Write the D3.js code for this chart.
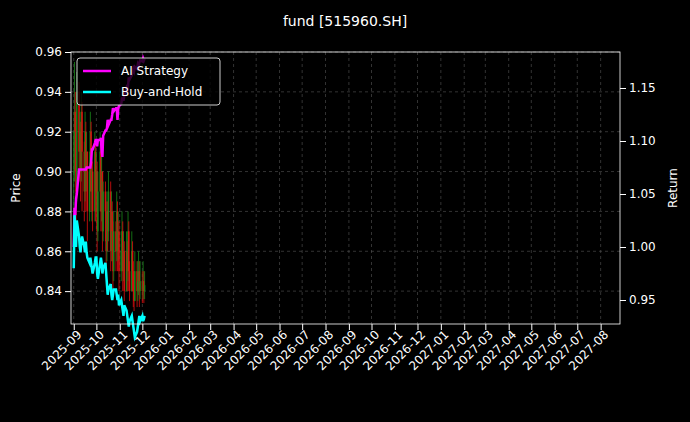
<!DOCTYPE html><html><head><meta charset="utf-8"><script src="https://cdn.jsdelivr.net/npm/d3@7"></script>
<style>body{margin:0;background:#000}text{font-family:"DejaVu Sans",sans-serif}</style></head><body><svg id="c" width="690" height="422"></svg>
<script>
const title="fund [515960.SH]";
const closes=[0.90,0.93,0.92,0.89,0.94,0.91,0.92,0.90,0.93,0.91,0.89,0.92,0.90,0.91,0.88,0.90,0.92,0.89,0.90,0.88,0.91,0.89,0.90,0.87,0.89,0.91,0.88,0.90,0.87,0.89,0.88,0.86,0.88,0.87,0.89,0.86,0.88,0.87,0.85,0.87,0.86,0.88,0.86,0.87,0.85,0.86,0.87,0.85,0.86,0.84,0.86,0.85,0.87,0.85,0.84,0.86,0.85,0.84,0.835,0.85,0.84,0.845,0.85,0.84,0.845,0.84,0.845,0.84,0.843];
const highs=[0.92,0.955,0.94,0.93,0.95,0.945,0.93,0.925,0.94,0.935,0.915,0.93,0.925,0.92,0.91,0.91,0.93,0.925,0.91,0.905,0.92,0.915,0.91,0.905,0.90,0.92,0.915,0.91,0.90,0.895,0.895,0.885,0.89,0.885,0.90,0.895,0.89,0.885,0.875,0.88,0.875,0.89,0.885,0.88,0.875,0.87,0.88,0.875,0.87,0.865,0.87,0.865,0.88,0.875,0.855,0.87,0.865,0.855,0.85,0.86,0.855,0.855,0.86,0.855,0.855,0.85,0.855,0.85,0.85];
const lows=[0.88,0.895,0.90,0.875,0.885,0.895,0.90,0.885,0.895,0.88,0.875,0.885,0.88,0.89,0.865,0.875,0.89,0.88,0.875,0.87,0.875,0.875,0.88,0.86,0.865,0.88,0.87,0.875,0.86,0.865,0.865,0.85,0.855,0.86,0.865,0.85,0.855,0.855,0.84,0.845,0.85,0.855,0.85,0.855,0.84,0.845,0.85,0.84,0.845,0.835,0.84,0.84,0.845,0.84,0.835,0.84,0.84,0.832,0.83,0.835,0.832,0.835,0.838,0.832,0.836,0.834,0.836,0.834,0.836];
const strategy=[1.00,1.037,1.03,1.045,1.05,1.073,1.073,1.073,1.073,1.073,1.073,1.073,1.073,1.075,1.075,1.075,1.075,1.08,1.092,1.092,1.098,1.101,1.101,1.095,1.101,1.101,1.103,1.09,1.085,1.105,1.11,1.11,1.112,1.12,1.115,1.12,1.12,1.125,1.131,1.128,1.131,1.131,1.12,1.131,1.133,1.135,1.14,1.14,1.138,1.143,1.15,1.148,1.152,1.16,1.158,1.162,1.165,1.168,1.166,1.17,1.168,1.172,1.17,1.174,1.176,1.175,1.178,1.176,1.178];
const buyHold=[0.98,1.03,1.02,1.00,1.025,1.01,1.00,0.995,1.005,1.01,1.00,0.995,1.005,0.995,0.99,0.985,0.99,0.985,0.98,0.975,0.985,0.99,0.99,0.975,0.97,0.985,0.99,0.985,0.975,0.98,0.985,0.975,0.965,0.955,0.96,0.965,0.955,0.95,0.955,0.96,0.96,0.955,0.95,0.955,0.945,0.95,0.945,0.94,0.935,0.945,0.94,0.935,0.93,0.925,0.93,0.935,0.93,0.925,0.92,0.915,0.92,0.925,0.93,0.935,0.93,0.935,0.93,0.932,0.935];
const priceTicks=[0.84,0.86,0.88,0.90,0.92,0.94,0.96];
const retTicks=[0.95,1.00,1.05,1.10,1.15];
const dates=[];{let d=new Date(2025,8,1);while(dates.length<closes.length){if(d.getDay()%6!==0)dates.push(new Date(d));d=new Date(d.getFullYear(),d.getMonth(),d.getDate()+1);}}
const opens=closes.map((c,i)=>i?closes[i-1]:c);
const svg=d3.select("#c");
const L=71,R=620,T=52,B=324;
const x=d3.scaleTime().domain([new Date(2025,7,28,8),new Date(2027,7,26,16)]).range([L,R]);
const yP=d3.scaleLinear().domain([0.8235,0.96]).range([B,T]);
const yR=d3.scaleLinear().domain([1,1.15]).range([247,88]);
const months=d3.timeMonth.range(new Date(2025,8,1),new Date(2027,7,2));
const g=svg.append("g");
g.selectAll(".vg").data(months).join("line").attr("x1",d=>x(d)).attr("x2",d=>x(d)).attr("y1",T).attr("y2",B).attr("stroke","#555").attr("stroke-dasharray","3,3").attr("stroke-width",0.6);
g.selectAll(".hg").data(priceTicks).join("line").attr("x1",L).attr("x2",R).attr("y1",d=>yP(d)).attr("y2",d=>yP(d)).attr("stroke","#555").attr("stroke-dasharray","3,3").attr("stroke-width",0.6);
const cg=g.append("g");
closes.forEach((c,i)=>{const up=c>=opens[i];const col=up?"#1a8a1a":"#e01010";
 cg.append("line").attr("x1",x(dates[i])).attr("x2",x(dates[i])).attr("y1",yP(highs[i])).attr("y2",yP(lows[i])).attr("stroke",col).attr("stroke-width",1).attr("opacity",0.8);
 cg.append("rect").attr("x",x(dates[i])-0.8).attr("width",1.6).attr("y",yP(Math.max(c,opens[i]))).attr("height",Math.max(1,Math.abs(yP(c)-yP(opens[i])))).attr("fill",col).attr("opacity",0.8);});
const line=arr=>d3.line().x((d,i)=>x(dates[i])).y(d=>yR(d))(arr);
g.append("path").attr("d",line(strategy)).attr("fill","none").attr("stroke","#ff00ff").attr("stroke-width",2.5);
g.append("path").attr("d",line(buyHold)).attr("fill","none").attr("stroke","#00ffff").attr("stroke-width",2.5);
g.append("rect").attr("x",L).attr("y",T).attr("width",R-L).attr("height",B-T).attr("fill","none").attr("stroke","#fff").attr("stroke-width",0.8);
const ax=svg.append("g").attr("transform",`translate(0,${B})`).call(d3.axisBottom(x).tickValues(months).tickFormat(d3.timeFormat("%Y-%m")).tickSizeOuter(0));
const ay=svg.append("g").attr("transform",`translate(${L},0)`).call(d3.axisLeft(yP).tickValues(priceTicks).tickFormat(d3.format(".2f")).tickSizeOuter(0));
const ar=svg.append("g").attr("transform",`translate(${R},0)`).call(d3.axisRight(yR).tickValues(retTicks).tickFormat(d3.format(".2f")).tickSizeOuter(0));
[ax,ay,ar].forEach(a=>{a.select(".domain").remove();a.selectAll("line").attr("stroke","#fff");a.selectAll("text").attr("fill","#fff").attr("font-size",12).style("font-family","DejaVu Sans");});
ax.selectAll("text").attr("transform","rotate(-45)").attr("text-anchor","end").attr("dx","-0.2em").attr("dy","0.4em");
svg.append("text").attr("x",345).attr("y",26).attr("text-anchor","middle").attr("fill","#fff").attr("font-size",14).text(title);
svg.append("text").attr("transform","translate(20,188) rotate(-90)").attr("text-anchor","middle").attr("fill","#fff").attr("font-size",12).text("Price");
svg.append("text").attr("transform","translate(677,188) rotate(-90)").attr("text-anchor","middle").attr("fill","#fff").attr("font-size",12).text("Return");
const lg=svg.append("g").attr("transform","translate(77,58)");
lg.append("rect").attr("width",143).attr("height",47).attr("rx",3).attr("fill","#000").attr("fill-opacity",0.8).attr("stroke","#ccc");
[["AI Strategy","#ff00ff"],["Buy-and-Hold","#00ffff"]].forEach((s,i)=>{lg.append("line").attr("x1",6).attr("x2",34).attr("y1",13+i*21).attr("y2",13+i*21).attr("stroke",s[1]).attr("stroke-width",2.5);
lg.append("text").attr("x",44).attr("y",17+i*21).attr("fill","#fff").attr("font-size",12).text(s[0]);});
</script></body></html>
